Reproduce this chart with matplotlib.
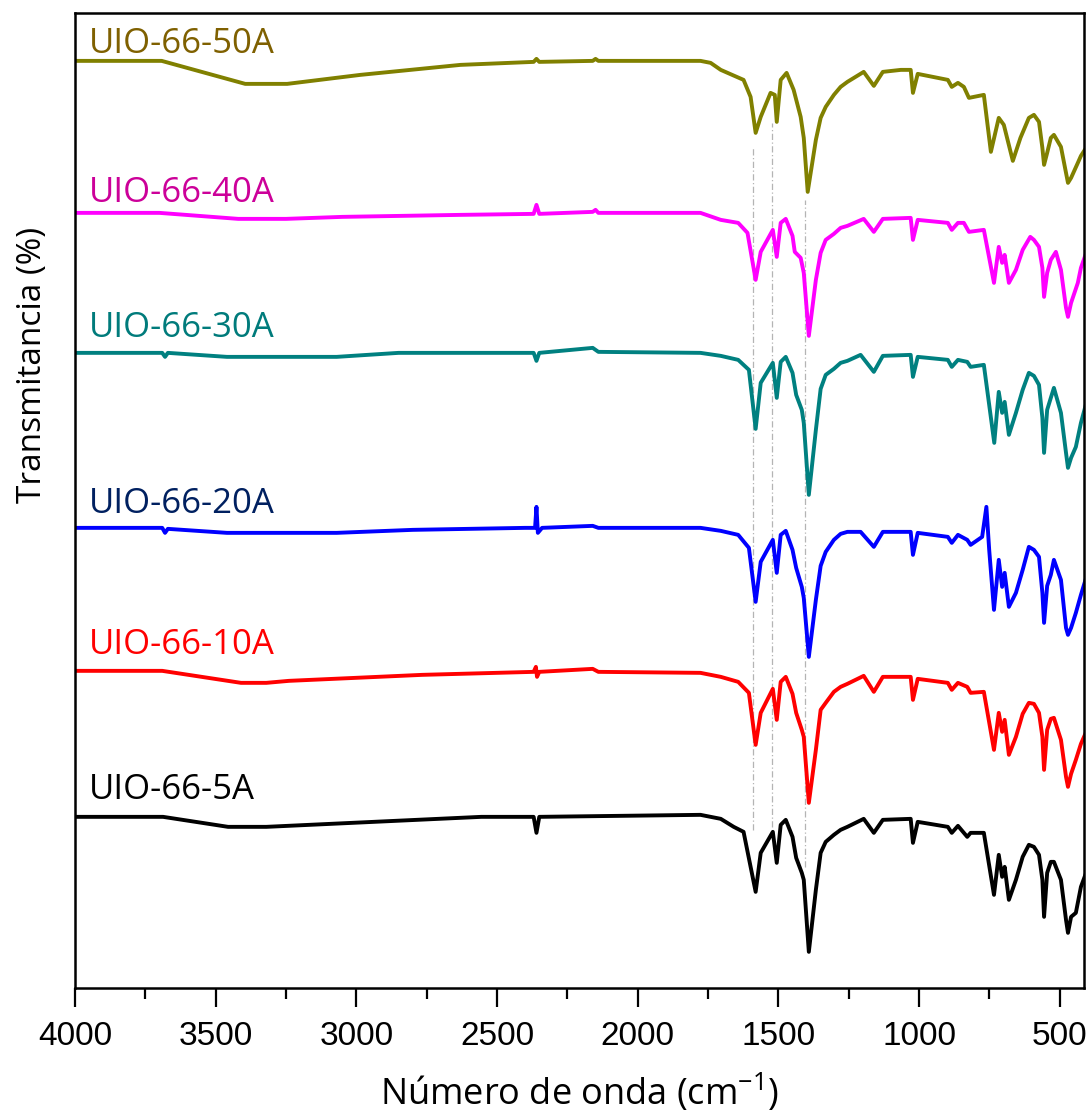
import matplotlib
matplotlib.use("Agg")
import matplotlib.pyplot as plt
from matplotlib.ticker import MultipleLocator

# FTIR spectra, transmittance in arbitrary units (offset traces)
wn_50 = [4000, 3692, 3395, 3246, 2986, 2630, 2370, 2360, 2350, 2160, 2150, 2140,
         1777, 1741, 1705, 1624, 1599, 1581, 1563, 1528, 1513, 1506, 1492, 1471,
         1446, 1421, 1410, 1396, 1367, 1350, 1332, 1303, 1279, 1255, 1197, 1161,
         1129, 1065, 1030, 1022, 1005, 898, 884, 862, 841, 823, 770, 745, 717,
         699, 667, 640, 610, 592, 574, 562, 556, 545, 532, 521, 496, 478, 471,
         460, 436, 425, 400]
t_50 = [92.7, 92.7, 90.4, 90.4, 91.3, 92.3, 92.6, 92.9, 92.6, 92.7, 92.9, 92.7,
        92.7, 92.5, 91.8, 90.8, 89.1, 85.5, 87.1, 89.5, 89.3, 86.6, 90.8, 91.5,
        89.8, 87.1, 85.0, 79.6, 84.8, 87.0, 88.1, 89.3, 90.1, 90.6, 91.6, 90.2,
        91.6, 91.8, 91.8, 89.5, 91.4, 90.8, 90.1, 90.5, 90.1, 89.0, 89.3, 83.6,
        87.0, 86.3, 82.7, 85.0, 87.0, 87.3, 86.6, 84.0, 82.3, 83.5, 85.0, 85.3,
        84.1, 81.5, 80.5, 81.0, 82.5, 83.2, 84.3]

wn_40 = [4000, 3700, 3420, 3250, 3050, 2630, 2370, 2360, 2350, 2160, 2150, 2140,
         1777, 1705, 1643, 1610, 1581, 1563, 1520, 1506, 1492, 1474, 1450, 1442,
         1421, 1410, 1392, 1367, 1350, 1332, 1303, 1279, 1255, 1197, 1161, 1129,
         1030, 1022, 1005, 898, 884, 862, 841, 823, 770, 734, 717, 705, 696, 681,
         656, 632, 605, 592, 574, 562, 556, 545, 532, 514, 496, 478, 471, 460,
         436, 425, 400]
t_40 = [77.5, 77.5, 76.9, 76.9, 77.1, 77.3, 77.4, 78.3, 77.4, 77.6, 77.8, 77.5,
        77.5, 76.8, 76.5, 75.5, 70.8, 73.6, 75.8, 73.1, 76.5, 76.9, 75.2, 73.6,
        73.0, 71.5, 65.2, 70.8, 73.5, 74.8, 75.4, 76.0, 76.2, 76.9, 75.6, 76.9,
        77.0, 74.8, 76.8, 76.5, 75.8, 76.5, 76.5, 75.6, 75.8, 70.5, 74.1, 72.5,
        73.3, 70.5, 71.8, 73.8, 75.1, 74.8, 74.1, 72.0, 69.1, 71.5, 72.8, 73.6,
        71.8, 68.0, 67.1, 68.5, 70.5, 72.0, 74.0]

wn_30 = [4000, 3690, 3680, 3670, 3460, 3070, 2850, 2370, 2360, 2350, 2160, 2140,
         1777, 1705, 1643, 1605, 1581, 1563, 1520, 1506, 1492, 1474, 1450, 1437,
         1417, 1410, 1392, 1367, 1350, 1332, 1303, 1279, 1255, 1208, 1161, 1129,
         1030, 1022, 1005, 898, 884, 862, 829, 817, 770, 733, 717, 705, 696, 681,
         656, 632, 610, 592, 574, 562, 556, 545, 532, 521, 496, 478, 471, 460,
         443, 425, 400]
t_30 = [63.5, 63.5, 63.1, 63.5, 63.1, 63.1, 63.5, 63.5, 62.7, 63.5, 64.0, 63.6,
        63.5, 63.2, 62.8, 61.8, 55.9, 60.5, 62.5, 59.0, 62.6, 63.1, 61.5, 59.3,
        57.8, 56.5, 49.3, 55.8, 59.9, 61.3, 61.9, 62.5, 62.7, 63.3, 61.6, 63.2,
        63.3, 61.1, 63.1, 62.8, 62.1, 62.8, 62.6, 62.1, 62.3, 54.5, 59.6, 57.5,
        58.6, 55.3, 57.5, 59.8, 61.5, 61.2, 60.3, 57.0, 53.5, 57.8, 59.0, 60.0,
        57.5, 53.5, 52.0, 53.0, 54.1, 56.5, 59.1]

wn_20 = [4000, 3690, 3680, 3670, 3460, 3070, 2800, 2400, 2365, 2360, 2355, 2340,
         2160, 2140, 1777, 1705, 1643, 1605, 1581, 1563, 1520, 1506, 1492, 1474,
         1450, 1437, 1417, 1410, 1392, 1367, 1350, 1332, 1303, 1279, 1255, 1208,
         1161, 1129, 1030, 1022, 1005, 898, 884, 862, 829, 817, 776, 761, 751,
         734, 717, 705, 696, 681, 656, 632, 610, 592, 574, 562, 556, 545, 532,
         521, 496, 478, 471, 460, 443, 425, 400]
t_20 = [46.0, 46.0, 45.5, 45.9, 45.5, 45.5, 45.8, 46.0, 46.0, 48.1, 45.5, 46.0,
        46.2, 46.0, 46.0, 45.7, 45.3, 44.0, 38.6, 42.6, 44.8, 41.5, 45.3, 45.7,
        43.8, 42.0, 40.1, 39.0, 33.1, 38.8, 42.2, 43.6, 44.8, 45.4, 45.6, 45.6,
        44.1, 45.6, 45.6, 43.3, 45.5, 45.1, 44.5, 45.3, 44.8, 44.3, 45.1, 48.1,
        43.8, 37.8, 42.8, 40.1, 41.5, 38.1, 39.5, 41.8, 44.1, 43.8, 43.1, 39.5,
        36.5, 40.2, 41.3, 42.8, 40.8, 36.0, 35.3, 36.0, 37.5, 39.3, 41.6]

wn_10 = [4000, 3690, 3410, 3320, 3240, 2766, 2370, 2362, 2358, 2350, 2160, 2140,
         1777, 1705, 1643, 1605, 1581, 1563, 1520, 1506, 1492, 1474, 1450, 1437,
         1417, 1410, 1392, 1367, 1350, 1332, 1303, 1279, 1255, 1197, 1161, 1129,
         1030, 1022, 1005, 898, 884, 862, 829, 817, 770, 734, 717, 705, 696, 681,
         656, 632, 610, 592, 574, 562, 556, 545, 532, 521, 496, 478, 471, 460,
         443, 425, 400]
t_10 = [31.7, 31.7, 30.5, 30.5, 30.7, 31.3, 31.6, 32.1, 31.1, 31.6, 31.9, 31.6,
        31.5, 31.1, 30.6, 29.5, 24.3, 27.5, 29.9, 26.8, 30.6, 31.1, 29.4, 27.5,
        25.8, 25.1, 18.5, 23.8, 27.8, 28.5, 29.6, 30.1, 30.4, 31.2, 29.6, 31.1,
        31.1, 28.8, 30.9, 30.5, 29.8, 30.5, 30.1, 29.5, 29.6, 23.8, 27.5, 25.6,
        26.8, 23.3, 25.1, 27.4, 28.5, 28.4, 27.5, 25.1, 21.8, 25.8, 26.9, 27.0,
        24.8, 21.1, 20.1, 21.4, 22.8, 24.4, 26.0]

wn_5 = [4000, 3687, 3456, 3320, 2556, 2370, 2360, 2350, 1777, 1705, 1659, 1624,
        1581, 1563, 1520, 1506, 1492, 1474, 1450, 1437, 1417, 1410, 1392, 1367,
        1350, 1332, 1303, 1279, 1255, 1197, 1161, 1129, 1030, 1022, 1005, 898,
        884, 862, 829, 817, 770, 734, 717, 705, 696, 681, 656, 632, 610, 592,
        574, 562, 556, 545, 532, 521, 496, 478, 471, 460, 443, 425, 400]
t_5 = [17.1, 17.1, 16.1, 16.1, 17.1, 17.1, 15.5, 17.1, 17.3, 16.9, 16.1, 15.6,
       9.6, 13.5, 15.6, 12.5, 16.3, 16.8, 15.1, 13.0, 11.5, 10.8, 3.6, 9.8,
       13.5, 14.6, 15.3, 15.8, 16.1, 16.9, 15.5, 16.8, 16.9, 14.5, 16.6, 16.1,
       15.5, 16.2, 15.1, 15.5, 15.5, 9.3, 13.3, 11.1, 12.1, 8.8, 10.8, 13.1,
       14.3, 14.1, 13.3, 10.8, 7.1, 11.5, 12.6, 12.6, 10.8, 6.8, 5.5, 7.1,
       7.5, 10.1, 12.0]

names = ["UIO-66-50A", "UIO-66-40A", "UIO-66-30A", "UIO-66-20A", "UIO-66-10A", "UIO-66-5A"]
line_colors = ["#808000", "#ff00ff", "#008080", "#0000ff", "#ff0000", "#000000"]
text_colors = ["#7f6000", "#cc0099", "#007b7b", "#002060", "#ff0000", "#000000"]
label_t = [93.5, 78.6, 65.1, 47.5, 33.4, 18.9]

# guide lines at band positions
guide_wn = [1592, 1522, 1406]
guide_top = [84.0, 86.5, 78.8]
guide_bot = [15.8, 16.1, 12.1]

spectra = [(wn_50, t_50), (wn_40, t_40), (wn_30, t_30),
           (wn_20, t_20), (wn_10, t_10), (wn_5, t_5)]

plt.rcParams['mathtext.fontset'] = 'custom'
plt.rcParams['mathtext.rm'] = 'Open Sans'

fig = plt.figure(figsize=(10.87, 11.20), dpi=100)
ax = fig.add_axes([0.069, 0.118, 0.928, 0.8705])

for x, top, bot in zip(guide_wn, guide_top, guide_bot):
    ax.plot([x, x], [bot, top], color="#b4b4b4", lw=0.9,
            linestyle=(0, (5, 2, 1, 2)), zorder=1)

for (x, y), c in zip(spectra, line_colors):
    ax.plot(x, y, color=c, lw=2.8, solid_joinstyle="round", zorder=2)

for name, c, ty in zip(names, text_colors, label_t):
    ax.text(3952, ty, name, color=c, fontsize=25, family="Open Sans",
            ha="left", va="baseline")

ax.set_xlim(4000, 415)
ax.set_ylim(0, 97.5)
ax.xaxis.set_major_locator(MultipleLocator(500))
ax.xaxis.set_minor_locator(MultipleLocator(250))
ax.set_yticks([])
ax.tick_params(axis="x", which="major", length=14, width=1.6, pad=10,
               labelsize=24, direction="out")
ax.tick_params(axis="x", which="minor", length=8, width=1.6, direction="out")
for lab in ax.get_xticklabels():
    lab.set_family("Liberation Sans")
for sp in ax.spines.values():
    sp.set_linewidth(1.8)

ax.set_xlabel("Número de onda (cm$^{\\mathregular{-1}}$)", fontsize=26,
              family="Open Sans", labelpad=14)
ax.set_ylabel("Transmitancia (%)", fontsize=24, family="Open Sans")
ax.yaxis.set_label_coords(-0.026, 0.639)

fig.savefig("out.png", dpi=100)
